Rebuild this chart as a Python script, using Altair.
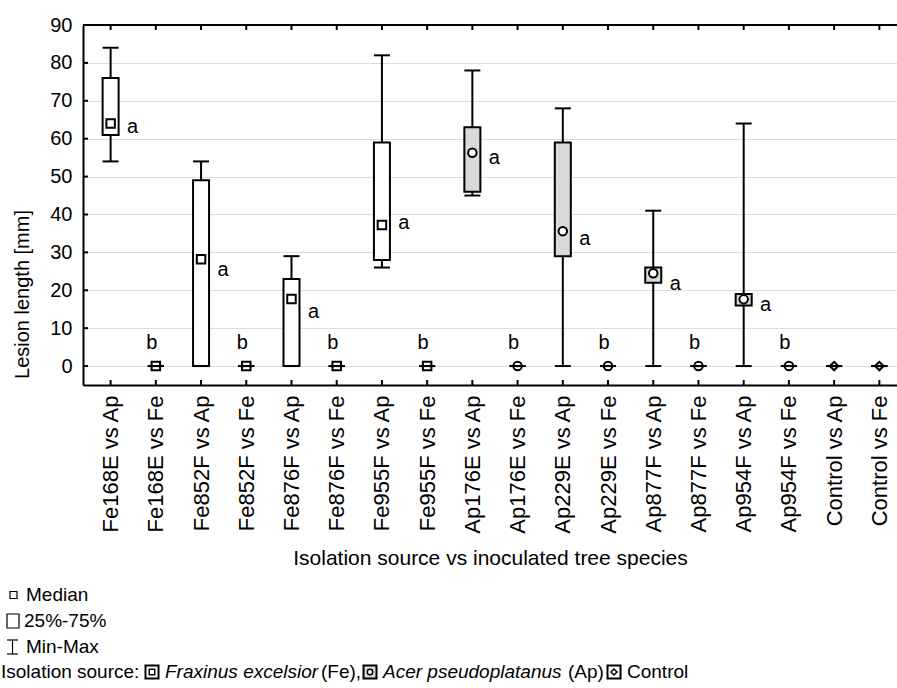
import json
import altair as alt
import pandas as pd

# ---- data ----
labels = ["Fe168E vs Ap", "Fe168E vs Fe", "Fe852F vs Ap", "Fe852F vs Fe",
          "Fe876F vs Ap", "Fe876F vs Fe", "Fe955F vs Ap", "Fe955F vs Fe",
          "Ap176E vs Ap", "Ap176E vs Fe", "Ap229E vs Ap", "Ap229E vs Fe",
          "Ap877F vs Ap", "Ap877F vs Fe", "Ap954F vs Ap", "Ap954F vs Fe",
          "Control vs Ap", "Control vs Fe"]
source = ["Fe"] * 8 + ["Ap"] * 8 + ["Control"] * 2
mins   = [54, 0, 0, 0, 0, 0, 26, 0, 45, 0, 0, 0, 0, 0, 0, 0, 0, 0]
q1s    = [61, 0, 0, 0, 0, 0, 28, 0, 46, 0, 29, 0, 22, 0, 16, 0, 0, 0]
medians= [64, 0, 28.2, 0, 17.7, 0, 37.2, 0, 56.3, 0, 35.6, 0, 24.5, 0, 17.6, 0, 0, 0]
q3s    = [76, 0, 49, 0, 23, 0, 59, 0, 63, 0, 59, 0, 26, 0, 19, 0, 0, 0]
maxs   = [84, 0, 54, 0, 29, 0, 82, 0, 78, 0, 68, 0, 41, 0, 64, 0, 0, 0]
letters   = ["a", "b", "a", "b", "a", "b", "a", "b", "a", "b", "a", "b", "a", "b", "a", "b", "", ""]
letter_y  = [63, 6, 25.4, 6, 14.3, 6, 37.8, 6, 55, 6, 33.6, 6, 21.7, 6, 16.1, 6, 0, 0]
y_ticks = [0, 10, 20, 30, 40, 50, 60, 70, 80, 90]

df = pd.DataFrame({
    "pos": list(range(len(labels))), "label": labels, "src": source,
    "mn": mins, "q1": q1s, "med": medians, "q3": q3s, "mx": maxs,
    "letter": letters, "ly": letter_y,
})

W, H = 814, 360
FONT = "Liberation Sans, Arial, sans-serif"

xscale = alt.Scale(domain=[-0.5, 17.28], nice=False, zero=False)
yscale = alt.Scale(domain=[-5, 90], nice=False, zero=False)

label_expr = json.dumps(labels) + "[datum.value]"

xaxis = alt.Axis(values=list(range(len(labels))), labelExpr=label_expr, labelAngle=-90,
                 labelFontSize=22, labelFont=FONT, labelColor="black", labelPadding=10,
                 tickSize=0, grid=False, domainColor="black", domainWidth=2,
                 title="Isolation source vs inoculated tree species", titleFont=FONT,
                 titleFontSize=21, titleFontWeight="normal", titleColor="black",
                 titlePadding=13, labelOverlap=False)
yaxis = alt.Axis(values=y_ticks, labelFontSize=20, labelFont=FONT, labelColor="black",
                 labelPadding=11, tickSize=0, grid=True, gridColor="#dcdcdc", gridWidth=1,
                 labelOverlap=False,
                 domainColor="black", domainWidth=2, title="Lesion length [mm]",
                 titleFont=FONT, titleFontSize=20, titleFontWeight="normal",
                 titleColor="black", titleY=269, titleX=-61, titleBaseline="middle")

base = alt.Chart(df)
Xn = alt.X("pos:Q", scale=xscale, axis=xaxis)

def Yn(field):
    return alt.Y(field, scale=yscale, axis=yaxis)

whisk_lo = base.mark_rule(color="black", strokeWidth=2).encode(
    x=Xn, y=Yn("mn:Q"), y2="q1:Q")
whisk_hi = base.mark_rule(color="black", strokeWidth=2).encode(
    x=Xn, y=Yn("q3:Q"), y2="mx:Q")

boxes = base.mark_bar(width=16, stroke="black", strokeWidth=2).encode(
    x=Xn, y=Yn("q1:Q"), y2="q3:Q",
    fill=alt.Fill("src:N", scale=alt.Scale(domain=["Fe", "Ap", "Control"],
                                           range=["white", "#d9d9d9", "white"]), legend=None))

medpts = base.mark_point(filled=True, fill="white", stroke="black", strokeWidth=2, opacity=1).encode(
    x=Xn, y=Yn("med:Q"),
    shape=alt.Shape("src:N", scale=alt.Scale(domain=["Fe", "Ap", "Control"],
                                             range=["square", "circle", "diamond"]), legend=None),
    size=alt.Size("src:N", scale=alt.Scale(domain=["Fe", "Ap", "Control"],
                                           range=[72, 72, 110]), legend=None))

cap_lo = base.mark_rule(color="black", strokeWidth=2, xOffset=-8, x2Offset=8).encode(
    x=Xn, x2="pos:Q", y=Yn("mn:Q"))
cap_hi = base.mark_rule(color="black", strokeWidth=2, xOffset=-8, x2Offset=8).encode(
    x=Xn, x2="pos:Q", y=Yn("mx:Q"))

text_a = base.transform_filter("datum.letter == 'a'").mark_text(
    font=FONT, fontSize=20, color="black", dx=22, align="center", baseline="middle").encode(
    x=Xn, y=Yn("ly:Q"), text="letter:N")
text_b = base.transform_filter("datum.letter == 'b'").mark_text(
    font=FONT, fontSize=20, color="black", dx=-4, align="center", baseline="middle").encode(
    x=Xn, y=Yn("ly:Q"), text="letter:N")

# inward ticks
yt = alt.Chart(pd.DataFrame({"v": y_ticks})).mark_rule(color="black", strokeWidth=2).encode(
    y=Yn("v:Q"), x=alt.value(0), x2=alt.value(5))
xt_bot = base.mark_rule(color="black", strokeWidth=2).encode(
    x=Xn, y=alt.value(H), y2=alt.value(H - 5))
xt_top = base.mark_rule(color="black", strokeWidth=2).encode(
    x=Xn, y=alt.value(0), y2=alt.value(5))
top_line = alt.Chart(alt.Data(values=[{}])).mark_rule(color="black", strokeWidth=2).encode(
    x=alt.value(0), x2=alt.value(W), y=alt.value(0))

# ---- bottom legend (pixel positions relative to plot origin 83,25) ----
OX, OY = 83, 25
def dtext(txt, x, y, italic=False):
    return alt.Chart(alt.Data(values=[{"t": txt}])).mark_text(
        align="left", baseline="middle", font=FONT, fontSize=19, color="black",
        fontStyle="italic" if italic else "normal").encode(
        x=alt.value(x - OX), y=alt.value(y - OY), text="t:N")

def dpoint(shape, x, y, size, fill="white", sw=1.5):
    return alt.Chart(alt.Data(values=[{}])).mark_point(
        shape=shape, filled=True, fill=fill, stroke="black", strokeWidth=sw, size=size, opacity=1).encode(
        x=alt.value(x - OX), y=alt.value(y - OY))

def drect(x1, y1, x2, y2, sw=1.2):
    return alt.Chart(alt.Data(values=[{}])).mark_rect(
        fill="white", stroke="black", strokeWidth=sw).encode(
        x=alt.value(x1 - OX), x2=alt.value(x2 - OX), y=alt.value(y1 - OY), y2=alt.value(y2 - OY))

def drule(x1, y1, x2, y2, sw=1.2):
    return alt.Chart(alt.Data(values=[{}])).mark_rule(color="black", strokeWidth=sw).encode(
        x=alt.value(x1 - OX), x2=alt.value(x2 - OX), y=alt.value(y1 - OY), y2=alt.value(y2 - OY))

L1, L2, L3, L4 = 595, 621, 647, 672
legend = [
    dpoint("square", 13.5, L1, 49, sw=1.2), dtext("Median", 26, L1),
    drect(7, L2 - 7, 19, L2 + 7), dtext("25%-75%", 24, L2),
    drule(7, L3 - 7, 18, L3 - 7), drule(7, L3 + 7, 18, L3 + 7), drule(12.5, L3 - 7, 12.5, L3 + 7),
    dtext("Min-Max", 26, L3),
    dtext("Isolation source:", 1, L4),
    dpoint("square", 152, L4, 169, sw=2), dpoint("square", 152, L4, 30, sw=1.5),
    dtext("Fraxinus excelsior", 165, L4, italic=True), dtext("(Fe),", 321, L4),
    dpoint("square", 370, L4, 169, fill="#d9d9d9", sw=2), dpoint("circle", 370, L4, 30, sw=1.5),
    dtext("Acer pseudoplatanus", 383, L4, italic=True), dtext("(Ap)", 568, L4),
    dpoint("square", 614, L4, 169, sw=2), dpoint("diamond", 614, L4, 36, sw=1.5),
    dtext("Control", 627, L4),
]

chart = alt.layer(
    yt, xt_bot, xt_top, top_line,
    boxes, medpts, whisk_lo, whisk_hi, cap_lo, cap_hi, text_a, text_b,
    *legend
).properties(
    width=W, height=H,
    autosize=alt.AutoSizeParams(type="none"),
    padding={"left": OX, "top": OY, "right": 897 - OX - W, "bottom": 688 - OY - H},
    background="white",
).configure_view(stroke=None)

chart.save("out.html", embed_options={"renderer": "svg", "actions": False})
